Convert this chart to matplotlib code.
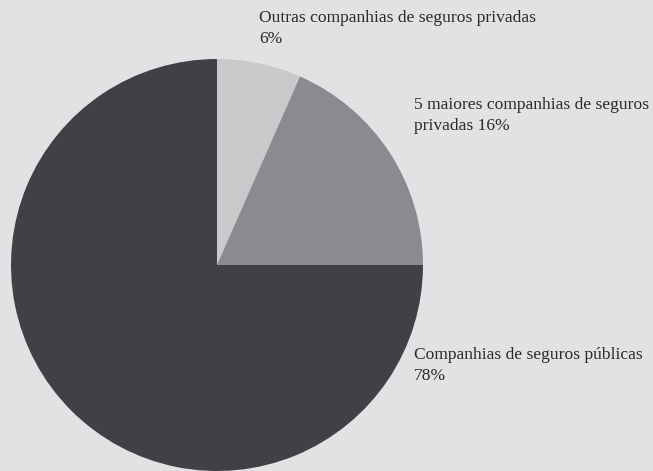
import matplotlib
matplotlib.use("Agg")
import matplotlib.pyplot as plt

categories = ["Outras companhias de seguros privadas",
              "5 maiores companhias de seguros privadas",
              "Companhias de seguros públicas"]
shares = [6.6, 18.4, 75.0]  # drawn slice sizes
labels = ["Outras companhias de seguros privadas\n6%",
          "5 maiores companhias de seguros\nprivadas 16%",
          "Companhias de seguros públicas\n78%"]
colors = ["#c8c9cb", "#8a8b8e", "#404144"]
bg = "#e1e2e4"

W, H = 653, 471
fig = plt.figure(figsize=(W / 100, H / 100), dpi=100, facecolor=bg)
cx, cy, r = 217, 265, 206
ax = fig.add_axes([(cx - r) / W, (H - cy - r) / H, 2 * r / W, 2 * r / H])
ax.set_facecolor(bg)
ax.pie(shares, colors=colors, startangle=90, counterclock=False, radius=1,
       wedgeprops=dict(linewidth=0))
ax.set_xlim(-1, 1)
ax.set_ylim(-1, 1)
ax.set_aspect("equal")
ax.axis("off")

font = dict(family=["Liberation Serif", "DejaVu Serif"], fontsize=12.6,
            color="#2b2b2b", linespacing=1.42)
pos = [(259, 10), (414, 97), (414, 347)]
for (x, y), t in zip(pos, labels):
    fig.text(x / W, 1 - y / H, t, ha="left", va="top", **font)

fig.savefig("out.png", dpi=100, facecolor=bg)
